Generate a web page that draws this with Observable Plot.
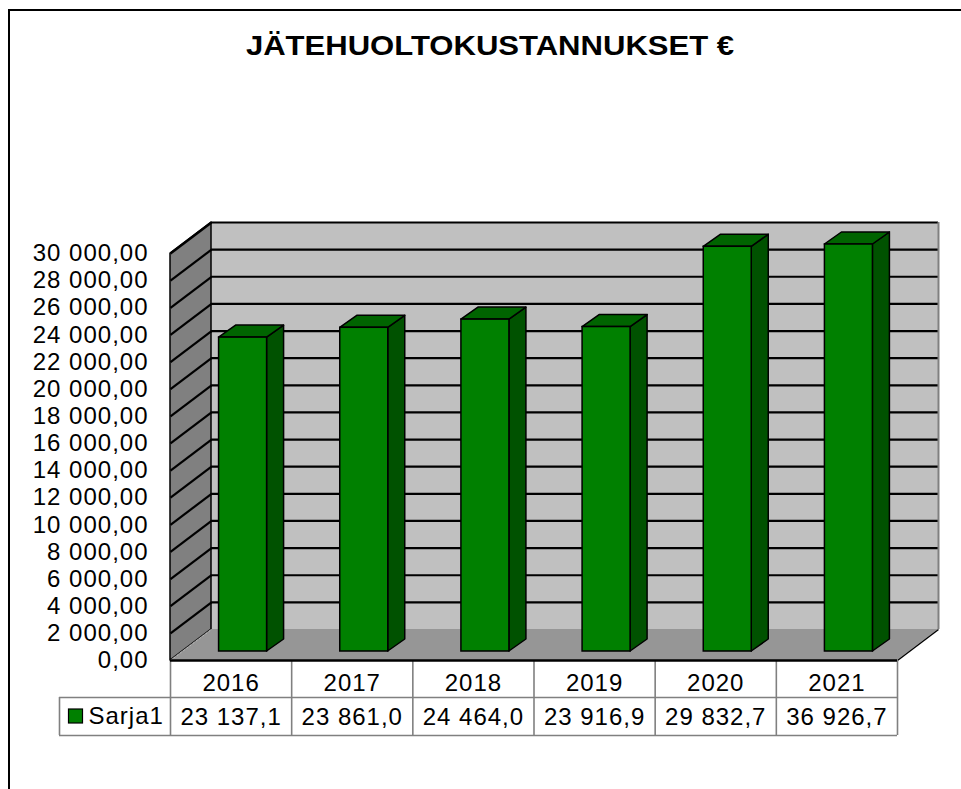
<!DOCTYPE html>
<html><head><meta charset="utf-8">
<script src="https://cdn.jsdelivr.net/npm/d3@7"></script>
<script src="https://cdn.jsdelivr.net/npm/@observablehq/plot@0.6"></script>
<style>
html,body{margin:0;padding:0;background:#fff;overflow:hidden;}
#wrap{position:relative;width:961px;height:789px;overflow:hidden;font-family:"Liberation Sans",Arial,sans-serif;}
#border{position:absolute;z-index:2;left:8px;top:9px;width:2000px;height:2000px;border-left:2px solid #000;border-top:2px solid #000;pointer-events:none;}
#title{position:relative;height:80px;}
#title span{position:absolute;left:490px;top:33px;font-size:27px;font-weight:bold;line-height:27px;white-space:nowrap;transform:translateX(-50%) scaleX(1.15);}
#chart svg{display:block;}
</style></head><body>
<div id="wrap"><div id="border"></div><div id="title"><span>JÄTEHUOLTOKUSTANNUKSET €</span></div><div id="chart"></div></div>
<script>
// ---- data ----
const years = ["2016", "2017", "2018", "2019", "2020", "2021"];
const costs = [23137.1, 23861.0, 24464.0, 23916.9, 29832.7, 36926.7];
const seriesName = "Sarja1";
const yTicks = [0, 2000, 4000, 6000, 8000, 10000, 12000, 14000, 16000, 18000, 20000, 22000, 24000, 26000, 28000, 30000];
const yMax = 30000;

// ---- layout ----
const W = 961, H = 709, ML = 182, MR = 52, MT = 164, MB = 138;
const n = years.length;
const kx = (W - ML - MR) / n;         // px per category unit
const ky = (H - MT - MB) / yMax;      // px per value unit
const X = p => p / kx;                // px -> x units
const Y = p => p / ky;                // px -> y units
const F = {dx: -12, dy: 9};           // front plane offset (walls, floor, table)
const B = {dx: 29, dy: -22};          // back wall offset
const DX = 41, DY = 31;               // wall depth in px
const bdx = 17, bdy = 12;             // bar depth in px
const hw = X(24);                     // bar half width

const loc = d3.formatLocale({decimal: ",", thousands: " ", grouping: [3], currency: ["", "€"]});
const fmtTick = loc.format(",.2f");
const fmtVal = loc.format(",.1f");

const rows = years.map((year, i) => ({year, i, value: costs[i], top: Math.min(costs[i], yMax)}));
const grid = yTicks.filter(v => v > 0);

const sides = rows.flatMap(d => [
  {i: d.i, x: d.i + 0.5 + hw, y1: 0, y2: d.top},
  {i: d.i, x: d.i + 0.5 + hw + X(bdx), y1: Y(bdy), y2: d.top + Y(bdy)}
]);
const tops = rows.flatMap(d => [
  {i: d.i, y: d.top, x1: d.i + 0.5 - hw, x2: d.i + 0.5 + hw},
  {i: d.i, y: d.top + Y(bdy), x1: d.i + 0.5 - hw + X(bdx), x2: d.i + 0.5 + hw + X(bdx)}
]);

const gray = "#808080";
const rowH1 = 37, rowH2 = 75;  // table row bottoms below front plane (px)
const legendLeft = X(-111);

const chart = Plot.plot({
  width: W, height: H,
  marginLeft: ML, marginRight: MR, marginTop: MT, marginBottom: MB,
  x: {type: "linear", domain: [0, n], axis: null},
  y: {type: "linear", domain: [0, yMax], axis: null},
  style: {fontFamily: "'Liberation Sans', Arial, sans-serif", fontSize: "24px", letterSpacing: "1px", background: "transparent", overflow: "visible", color: "#000"},
  marks: [
    // back wall
    Plot.rect([0], {x1: 0, x2: n, y1: 0, y2: yMax, ...B, fill: "#c0c0c0"}),
    Plot.ruleY(grid, {y: d => d, x1: 0, x2: n, ...B, stroke: "#000", strokeWidth: 2.2}),
    Plot.ruleX([n], {y1: 0, y2: yMax, ...B, stroke: gray, strokeWidth: 2}),
    // left side wall
    Plot.areaY([{x: 0, y1: 0, y2: yMax}, {x: X(DX), y1: Y(DY), y2: yMax + Y(DY)}],
      {x: "x", y1: "y1", y2: "y2", ...F, fill: "#808080", stroke: "#000", strokeWidth: 1.5}),
    Plot.link(grid, {x1: 0, y1: d => d, x2: X(DX), y2: d => d + Y(DY), ...F, stroke: "#000", strokeWidth: 2.2}),
    // floor
    Plot.areaX([{y: 0, x1: 0, x2: n}, {y: Y(DY), x1: X(DX), x2: n + X(DX)}],
      {y: "y", x1: "x1", x2: "x2", ...F, fill: "#969696"}),
    Plot.link([0], {x1: 0, y1: 0, x2: X(DX), y2: Y(DY), ...F, stroke: "#b8b8b8", strokeWidth: 1, strokeDasharray: "2,2"}),
    Plot.link([0], {x1: n, y1: 0, x2: n + X(DX), y2: Y(DY), ...F, stroke: "#000", strokeWidth: 1.5}),
    // bars
    Plot.areaY(sides, {x: "x", y1: "y1", y2: "y2", z: "i", fill: "#005200", stroke: "#000", strokeWidth: 1.5}),
    Plot.areaX(tops, {y: "y", x1: "x1", x2: "x2", z: "i", fill: "#006400", stroke: "#000", strokeWidth: 1.5}),
    Plot.rect(rows, {x1: d => d.i + 0.5 - hw, x2: d => d.i + 0.5 + hw, y1: 0, y2: "top", fill: "#008000", stroke: "#000", strokeWidth: 1.5}),
    // y tick labels
    Plot.text(yTicks, {x: 0, y: d => d, text: d => fmtTick(d), textAnchor: "end", dx: -34, dy: F.dy, fontSize: 24, fill: "#000"}),
    // data table
    Plot.ruleY([0], {y: 0 - Y(rowH1), x1: legendLeft, x2: n, ...F, stroke: gray, strokeWidth: 1.6}),
    Plot.ruleY([0], {y: 0 - Y(rowH2), x1: legendLeft, x2: n, ...F, stroke: gray, strokeWidth: 1.6}),
    Plot.ruleX(d3.range(n + 1), {x: d => d, y1: 0, y2: -Y(rowH2), ...F, stroke: gray, strokeWidth: 1.6}),
    Plot.ruleX([legendLeft], {x: d => d, y1: -Y(rowH1), y2: -Y(rowH2), ...F, stroke: gray, strokeWidth: 1.6}),
    Plot.ruleY([0], {y: 0, x1: 0, x2: n, ...F, stroke: "#000", strokeWidth: 2.5}),
    Plot.text(rows, {x: d => d.i + 0.5, y: 0, text: "year", dx: F.dx, dy: F.dy + 23, fontSize: 24, fill: "#000"}),
    Plot.text(rows, {x: d => d.i + 0.5, y: 0, text: d => fmtVal(d.value), dx: F.dx, dy: F.dy + 57, fontSize: 24, fill: "#000"}),
    // legend key
    Plot.rect([seriesName], {x1: X(-101.5), x2: X(-87.5), y1: -Y(49), y2: -Y(63), ...F, fill: "#008000", stroke: "#000", strokeWidth: 1.2}),
    Plot.text([seriesName], {x: X(-82), y: 0, text: d => d, textAnchor: "start", dx: F.dx, dy: F.dy + 56, fontSize: 24, fill: "#000"})
  ]
});
document.getElementById("chart").appendChild(chart);
</script>
</body></html>
